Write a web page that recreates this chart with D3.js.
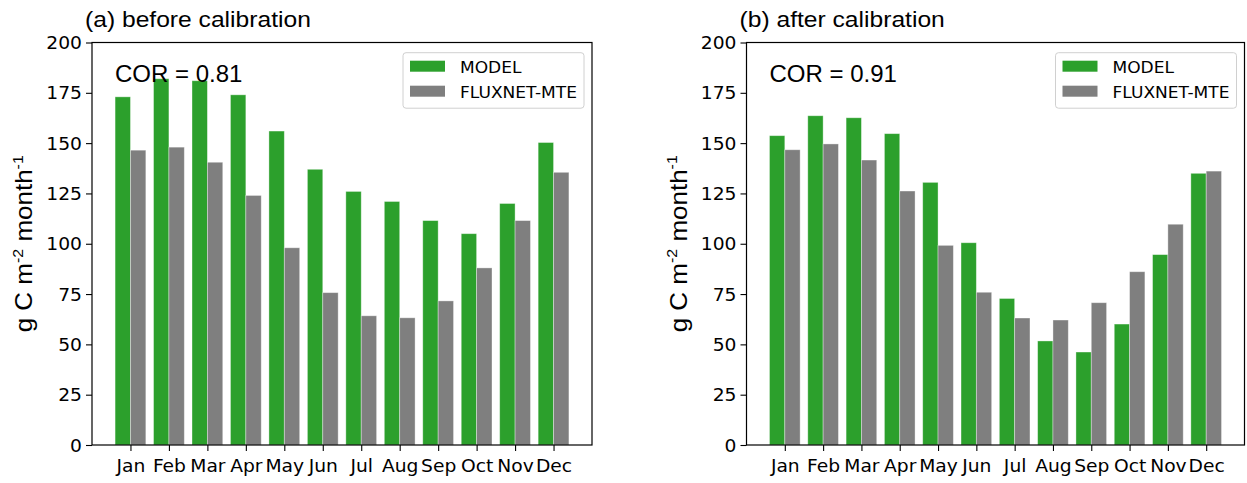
<!DOCTYPE html>
<html>
<head>
<meta charset="utf-8">
<script src="https://cdn.jsdelivr.net/npm/d3@7"></script>
<style>
  html, body { margin: 0; padding: 0; background: #fff; }
  svg { display: block; }
</style>
</head>
<body>
<svg id="chart" width="1247" height="483"></svg>
<script>
// ---------------- data ----------------
const months = ["Jan","Feb","Mar","Apr","May","Jun","Jul","Aug","Sep","Oct","Nov","Dec"];
const modelBefore = [173, 182, 181, 174, 156, 137, 126, 121, 111.5, 105, 120, 150.3];
const fluxBefore  = [146.5, 148, 140.5, 124, 98, 75.7, 64.2, 63.2, 71.6, 88, 111.5, 135.5];
const modelAfter  = [153.7, 163.6, 162.6, 154.7, 130.5, 100.5, 72.8, 51.7, 46.2, 60.1, 94.6, 135.0];
const fluxAfter   = [146.7, 149.6, 141.6, 126.2, 99.2, 75.9, 63.1, 62.1, 70.7, 86.1, 109.7, 136.1];
const yTicks = [0, 25, 50, 75, 100, 125, 150, 175, 200];
const seriesNames = ["MODEL", "FLUXNET-MTE"];
const panelTitles = ["(a) before calibration", "(b) after calibration"];
const corLabels = ["COR = 0.81", "COR = 0.91"];

// ---------------- style ----------------
const GREEN = "#2ca02c", GRAY = "#7f7f7f";
const SX = 1.1; // horizontal stretch of the reference figure text
const svg = d3.select("#chart");

function stext(g, x, y, str, opts) {
  const t = g.append("text")
    .attr("transform", `translate(${x},${y}) scale(${opts.sx || SX},1)` + (opts.rot ? ` rotate(${opts.rot})` : ""))
    .attr("font-family", opts.family || "'DejaVu Sans', sans-serif")
    .attr("font-size", opts.size)
    .attr("fill", opts.fill || "#000")
    .attr("text-anchor", opts.anchor || "start");
  if (typeof str === "string") t.text(str);
  return t;
}

const panels = [
  {x0: 92, x1: 592, model: modelBefore, flux: fluxBefore, title: panelTitles[0], cor: corLabels[0]},
  {x0: 746.5, x1: 1244.5, model: modelAfter, flux: fluxAfter, title: panelTitles[1], cor: corLabels[1]}
];
const yTop = 42.5, yBot = 445;

panels.forEach(p => {
  const g = svg.append("g");
  const x = d3.scaleLinear().domain([-1, 12]).range([p.x0, p.x1]);
  const y = d3.scaleLinear().domain([0, 200]).range([yBot, yTop]);
  const bw = 0.4;

  // bars
  g.append("g").selectAll("rect").data(p.model).join("rect")
    .attr("x", (d, i) => x(i - bw)).attr("width", x(bw) - x(0))
    .attr("y", d => y(d)).attr("height", d => y(0) - y(d))
    .attr("fill", GREEN).attr("stroke", "rgba(255,255,255,0.45)").attr("stroke-width", 0.8);
  g.append("g").selectAll("rect").data(p.flux).join("rect")
    .attr("x", (d, i) => x(i)).attr("width", x(bw) - x(0))
    .attr("y", d => y(d)).attr("height", d => y(0) - y(d))
    .attr("fill", GRAY).attr("stroke", "rgba(255,255,255,0.45)").attr("stroke-width", 0.8);

  // y axis
  const ya = g.append("g").attr("transform", `translate(${p.x0},0)`)
    .call(d3.axisLeft(y).tickValues(yTicks).tickSize(6).tickPadding(0).tickFormat(d3.format("d")));
  ya.select(".domain").remove();
  ya.selectAll(".tick line").attr("stroke", "#000").attr("stroke-width", 1.1);
  ya.selectAll(".tick text")
    .attr("x", null).attr("dy", null)
    .attr("transform", `translate(-10,6) scale(${SX},1)`)
    .attr("font-family", "'DejaVu Sans', sans-serif").attr("font-size", 17).attr("fill", "#000");

  // x axis
  const xa = g.append("g").attr("transform", `translate(0,${yBot})`)
    .call(d3.axisBottom(x).tickValues(d3.range(12)).tickSize(6).tickPadding(0).tickFormat(i => months[i]));
  xa.select(".domain").remove();
  xa.selectAll(".tick line").attr("stroke", "#000").attr("stroke-width", 1.1);
  xa.selectAll(".tick text")
    .attr("y", null).attr("dy", null)
    .attr("transform", `translate(0,26.5) scale(${SX},1)`)
    .attr("font-family", "'DejaVu Sans', sans-serif").attr("font-size", 17).attr("fill", "#000");

  // frame
  g.append("rect").attr("x", p.x0).attr("y", yTop).attr("width", p.x1 - p.x0).attr("height", yBot - yTop)
    .attr("fill", "none").attr("stroke", "#000").attr("stroke-width", 1.2);

  // title
  stext(g, p.x0 - 7, 27, p.title, {family: "'Liberation Sans', Arial, sans-serif", size: 22, sx: 1.12});
  // COR
  stext(g, p.x0 + 23, 82, p.cor, {family: "'Liberation Sans', Arial, sans-serif", size: 24, sx: 1.0});

  // y label
  const yl = stext(g, p.x0 - 60, (yTop + yBot) / 2, null, {family: "'Liberation Sans', Arial, sans-serif", size: 26, sx: 0.95, rot: -90, anchor: "middle"});
  yl.append("tspan").text("g C m");
  yl.append("tspan").attr("font-size", 16).attr("dy", -10).text("-2");
  yl.append("tspan").attr("dy", 10).text(" month");
  yl.append("tspan").attr("font-size", 16).attr("dy", -10).text("-1");

  // legend
  const lx = p.x1 - 8 - 181, ly = 52.7;
  const lg = g.append("g");
  lg.append("rect").attr("x", lx).attr("y", ly).attr("width", 181).attr("height", 55.5)
    .attr("rx", 3).attr("fill", "rgba(255,255,255,0.8)").attr("stroke", "#d0d0d0").attr("stroke-width", 1);
  [GREEN, GRAY].forEach((c, k) => {
    lg.append("rect").attr("x", lx + 7).attr("y", ly + 8 + k * 25).attr("width", 35).attr("height", 11)
      .attr("fill", c);
    stext(lg, lx + 57, ly + 20 + k * 25, seriesNames[k], {size: 15.5, sx: 1.1});
  });
});
</script>
</body>
</html>
